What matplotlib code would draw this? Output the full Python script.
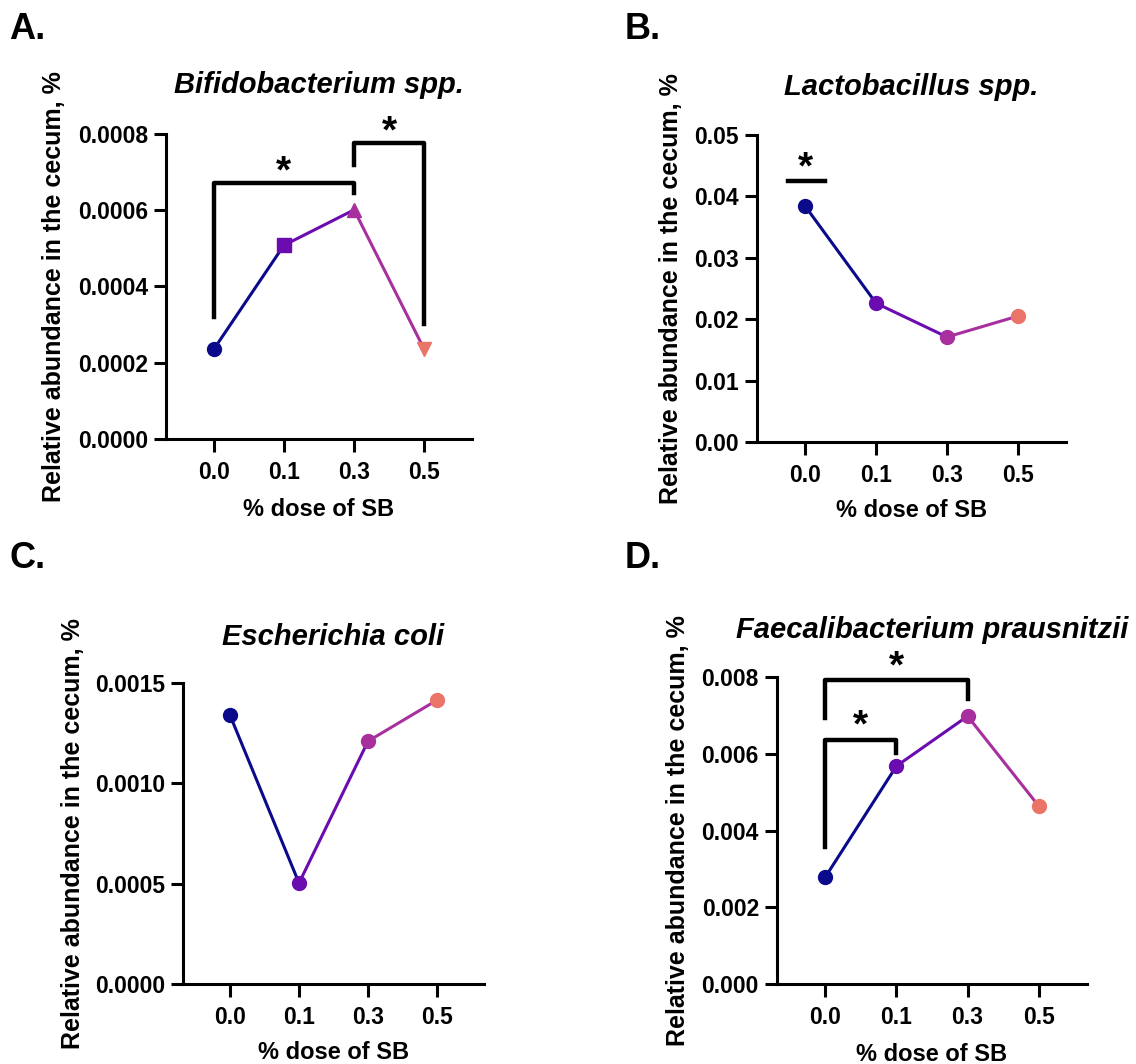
import matplotlib
matplotlib.use('Agg')
import matplotlib.pyplot as plt

plt.rcParams['font.family'] = ['Liberation Sans', 'DejaVu Sans']
plt.rcParams['font.weight'] = 'bold'

doses = ['0.0', '0.1', '0.3', '0.5']
colors = ['#0a0a8a', '#6a0cb0', '#a8309e', '#ea7468']

bifido = [0.000235, 0.000508, 0.000601, 0.000235]
lacto = [0.0384, 0.0226, 0.0171, 0.0205]
ecoli = [0.00134, 0.000503, 0.00121, 0.001415]
faecali = [0.00279, 0.00568, 0.00698, 0.00464]

bifido_ticks = [0, 0.0002, 0.0004, 0.0006, 0.0008]
bifido_ticklabels = ['0.0000', '0.0002', '0.0004', '0.0006', '0.0008']
lacto_ticks = [0, 0.01, 0.02, 0.03, 0.04, 0.05]
lacto_ticklabels = ['0.00', '0.01', '0.02', '0.03', '0.04', '0.05']
ecoli_ticks = [0, 0.0005, 0.0010, 0.0015]
ecoli_ticklabels = ['0.0000', '0.0005', '0.0010', '0.0015']
faecali_ticks = [0, 0.002, 0.004, 0.006, 0.008]
faecali_ticklabels = ['0.000', '0.002', '0.004', '0.006', '0.008']

fig = plt.figure(figsize=(11.36, 10.64), dpi=100)

panels = [
    ('A.', 'Bifidobacterium spp.', bifido, bifido_ticks, bifido_ticklabels, ['o', 's', '^', 'v'],
     [0.1461, 0.5874, 0.2694, 0.2867], 1.161, -0.327, -0.193, (0.008, 0.989)),
    ('B.', 'Lactobacillus spp.', lacto, lacto_ticks, lacto_ticklabels, ['o'] * 4,
     [0.6664, 0.5846, 0.2720, 0.2885], 1.156, -0.239, -0.186, (0.550, 0.989)),
    ('C.', 'Escherichia coli', ecoli, ecoli_ticks, ecoli_ticklabels, ['o'] * 4,
     [0.1611, 0.0752, 0.2650, 0.2829], 1.153, -0.326, -0.189, (0.008, 0.492)),
    ('D.', 'Faecalibacterium prausnitzii', faecali, faecali_ticks, faecali_ticklabels, ['o'] * 4,
     [0.6840, 0.0752, 0.2729, 0.2885], 1.153, -0.281, -0.192, (0.550, 0.492)),
]

axes = []
for letter, title, vals, ticks, ticklabels, markers, pos, ty, ylx, xly, lpos in panels:
    ax = fig.add_axes(pos)
    x = list(range(len(doses)))
    # segments coloured by starting point
    for i in range(len(x) - 1):
        ax.plot(x[i:i + 2], vals[i:i + 2], color=colors[i], lw=2.2, zorder=2)
    for i in range(len(x)):
        ax.plot(x[i], vals[i], marker=markers[i], color=colors[i], ms=10, ls='none', zorder=3)
    ax.set_xlim(-0.68, 3.68)
    ax.set_ylim(ticks[0], ticks[-1])
    ax.set_xticks(x)
    ax.set_xticklabels(doses)
    ax.set_yticks(ticks)
    ax.set_yticklabels(ticklabels)
    for s in ['top', 'right']:
        ax.spines[s].set_visible(False)
    for s in ['left', 'bottom']:
        ax.spines[s].set_linewidth(2.2)
    ax.tick_params(width=2.2, length=9, labelsize=16.5, pad=4)
    ax.tick_params(axis='x', pad=7)
    ax.set_ylabel('Relative abundance in the cecum, %', fontsize=18, fontweight='bold')
    ax.yaxis.set_label_coords(ylx, 0.5)
    ax.set_xlabel('% dose of SB', fontsize=17, fontweight='bold')
    ax.xaxis.set_label_coords(0.5, xly)
    ax.text(0.5, ty, title, transform=ax.transAxes, ha='center', va='center',
            fontsize=21, fontweight='bold', style='italic')
    fig.text(lpos[0], lpos[1], letter, fontsize=26, fontweight='bold', ha='left', va='top')
    axes.append(ax)


def bracket(ax, x1, x2, y, yl, yr, sy):
    ax.plot([x1, x1, x2, x2], [yl, y, y, yr], color='black', lw=3.2, clip_on=False, zorder=4)
    ax.text((x1 + x2) / 2, sy, '*', ha='center', va='center', fontsize=28, fontweight='bold',
            clip_on=False)


bracket(axes[0], 0, 2, 0.000671, 0.00032, 0.000645, 0.000700)
bracket(axes[0], 2, 3, 0.000776, 0.000718, 0.000302, 0.000805)
axes[1].plot([-0.25, 0.28], [0.0425, 0.0425], color='black', lw=3.2, clip_on=False)
axes[1].text(0.0, 0.0445, '*', ha='center', va='center', fontsize=28, fontweight='bold')
bracket(axes[3], 0, 2, 0.00792, 0.00693, 0.00743, 0.00826)
bracket(axes[3], 0, 1, 0.00636, 0.00357, 0.00602, 0.00670)

plt.savefig('out.png', dpi=100)
